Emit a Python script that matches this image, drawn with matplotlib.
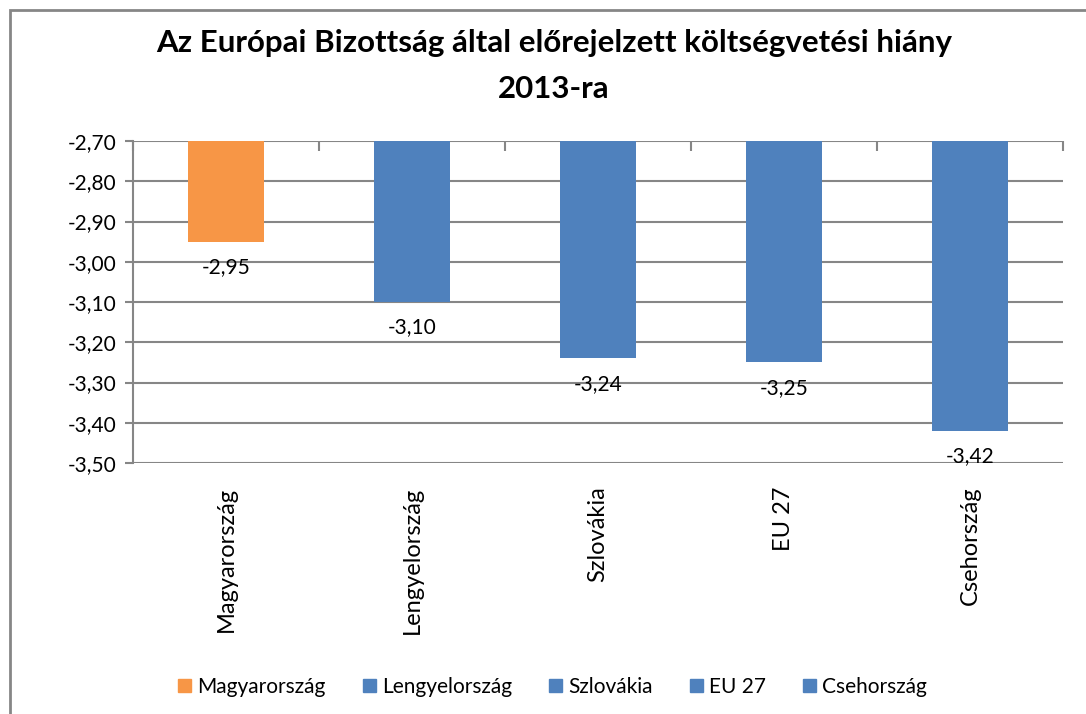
import matplotlib
matplotlib.use("Agg")
import matplotlib.pyplot as plt
from matplotlib.patches import Rectangle, Patch
import numpy as np

plt.rcParams['font.family'] = ['Lato', 'DejaVu Sans']

# data
categories = ["Magyarország", "Lengyelország", "Szlovákia", "EU 27", "Csehország"]
values = [-2.95, -3.10, -3.24, -3.25, -3.42]
y_ticks = [-3.50, -3.40, -3.30, -3.20, -3.10, -3.00, -2.90, -2.80, -2.70]
title = "Az Európai Bizottság által előrejelzett költségvetési hiány\n2013-ra"

ORANGE = "#f79646"
BLUE = "#4f81bd"
GRID = "#868686"
colors = [ORANGE, BLUE, BLUE, BLUE, BLUE]
base = -2.70


def comma(v):
    return "{:.2f}".format(v).replace(".", ",")


fig = plt.figure(figsize=(10.86, 7.14), dpi=100)
ax = fig.add_axes([133 / 1086, 1 - 463 / 714, (1063 - 133) / 1086, (463 - 141) / 714])

x = np.arange(len(categories))
heights = np.array(values) - base
ax.bar(x, heights, bottom=base, width=0.41, color=colors, zorder=3)

for xi, v in zip(x, values):
    ax.annotate(comma(v), (xi, v), xytext=(0, -11), textcoords="offset points",
                ha="center", va="top", fontsize=15, color="black")

ax.set_ylim(-3.50, -2.70)
ax.set_xlim(-0.5, len(categories) - 0.5)
ax.set_yticks(y_ticks)
ax.set_yticklabels([comma(t) for t in y_ticks], fontsize=15)
ax.yaxis.grid(True, color=GRID, linewidth=1.5, zorder=0)

ax.set_xticks(x)
ax.set_xticklabels(categories, rotation=90, fontsize=17, va="top")
ax.tick_params(axis="x", length=0, pad=17)
ax.tick_params(axis="y", length=6, width=1.5, color=GRID, pad=6)

for s in ["top", "right", "bottom"]:
    ax.spines[s].set_visible(False)
ax.spines["left"].set_color(GRID)
ax.spines["left"].set_linewidth(1.5)

# category ticks on the top axis (where bars hang from)
top = ax.secondary_xaxis("top")
top.set_xticks(np.arange(len(categories) + 1) - 0.5)
top.set_xticklabels([])
top.tick_params(direction="in", length=7, width=1.5, color=GRID)
top.spines["top"].set_visible(False)

fig.suptitle(title, x=0.51, y=0.96, fontsize=22.5, fontweight="bold", linespacing=1.8)

handles = [Patch(color=c) for c in colors]
fig.legend(handles, categories, loc="center", bbox_to_anchor=(0.509, 1 - 687 / 714),
           ncol=5, frameon=False, fontsize=15, handlelength=0.6, handleheight=0.6,
           handletextpad=0.3, columnspacing=1.8)

# chart border (top/left visible, rest cropped)
fig.patches.append(Rectangle((10 / 1086, -0.5), 1.5, 1.5 - 10 / 714, transform=fig.transFigure,
                             fill=False, edgecolor=GRID, linewidth=2, clip_on=False))

fig.savefig("out.png", dpi=100)
